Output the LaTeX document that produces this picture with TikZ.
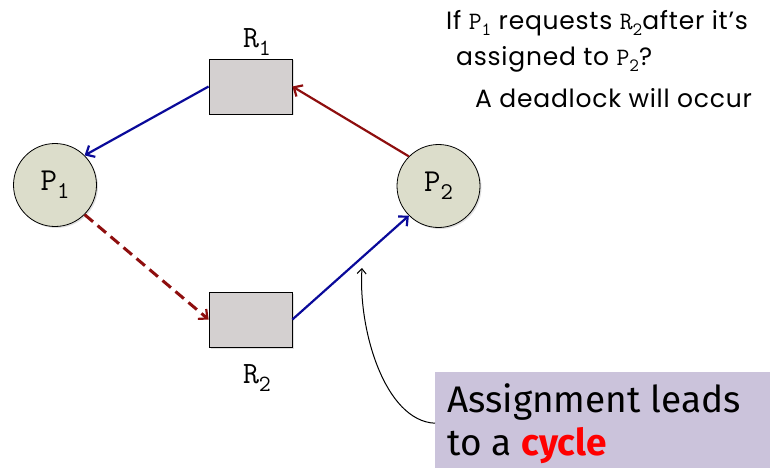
\documentclass[tikz,border=0pt]{standalone}
\usepackage{fontspec}
\setmainfont{Poppins}
\newfontfamily\notefnt{Fira Sans}
\usetikzlibrary{arrows.meta,shadows}
\definecolor{procfill}{HTML}{DCDDCB}
\definecolor{resfill}{HTML}{D4D0D0}
\definecolor{asgblue}{HTML}{0A0A9A}
\definecolor{reqred}{HTML}{8E0E0E}
\definecolor{notefill}{HTML}{CBC3DB}
\newcommand{\mlab}[2]{{\ttfamily #1\raisebox{-0.25em}{\fontsize{0.75em}{1em}\selectfont #2}}}
\tikzset{
  proc/.style={circle,draw=black,line width=0.8pt,fill=procfill,minimum size=83pt,inner sep=0pt,
     font=\ttfamily\fontsize{32}{34}\selectfont, drop shadow={opacity=0.25,shadow xshift=1.5pt,shadow yshift=-1.5pt}},
  res/.style={rectangle,draw=black,line width=0.8pt,fill=resfill,minimum width=83pt,minimum height=55pt,inner sep=0pt,
     drop shadow={opacity=0.25,shadow xshift=1.5pt,shadow yshift=-1.5pt}},
  rlabel/.style={font=\ttfamily\fontsize{31}{34}\selectfont},
  edge/.style={line width=2.2pt,-{Straight Barb[length=7pt,width=13pt,line width=2.2pt]}},
  asg/.style={edge,draw=asgblue},
  req/.style={edge,draw=reqred},
  toptext/.style={font=\addfontfeature{LetterSpace=3}\fontsize{25}{28}\selectfont,anchor=west,inner sep=0pt},
}
\begin{document}
\begin{tikzpicture}[x=1pt,y=-1pt]
\useasboundingbox (0,0) rectangle (770,468);
\node[proc] (P1) at (55,185) {\mlab{P}{1}};
\node[proc] (P2) at (438.5,186) {\mlab{P}{2}};
\node[res] (R1) at (250.5,86.5) {};
\node[res] (R2) at (250.5,319.5) {};
\node[rlabel] (R1l) at (257,42) {\mlab{R}{1}};
\node[rlabel] (R2l) at (257,378) {\mlab{R}{2}};
\draw[asg] (R1.west) -- (P1.45);
\draw[req] (P2.135) -- (R1.east);
\draw[req,line width=3pt,dash pattern=on 11pt off 6pt] (P1.-45) -- (R2.west);
\draw[asg] (R2.east) -- (P2.225);
\node[toptext] (t1) at (446,23) {If \mlab{P}{1} requests \mlab{R}{2}after it’s};
\node[toptext] (t2) at (456,59) {assigned to \mlab{P}{2}?};
\node[toptext] (t3) at (475,98) {A deadlock will occur};
\node[rectangle,fill=notefill,anchor=north west,minimum width=335pt,minimum height=96pt,inner sep=0pt] (note) at (435,372) {};
\node[anchor=base west,inner sep=0pt,font=\notefnt\fontsize{37}{40}\selectfont] (n1) at (447,412) {Assignment leads};
\node[anchor=base west,inner sep=0pt,font=\notefnt\fontsize{37}{40}\selectfont] (n2) at (447,455) {to a \textcolor{red}{\bfseries cycle}};
\coordinate (tip) at (362,268);
\draw[line width=1pt,-{Straight Barb[length=5pt,width=9pt]}] ([yshift=-3pt]note.west) .. controls (385,421) and (358,330) .. (tip);
\end{tikzpicture}
\end{document}
